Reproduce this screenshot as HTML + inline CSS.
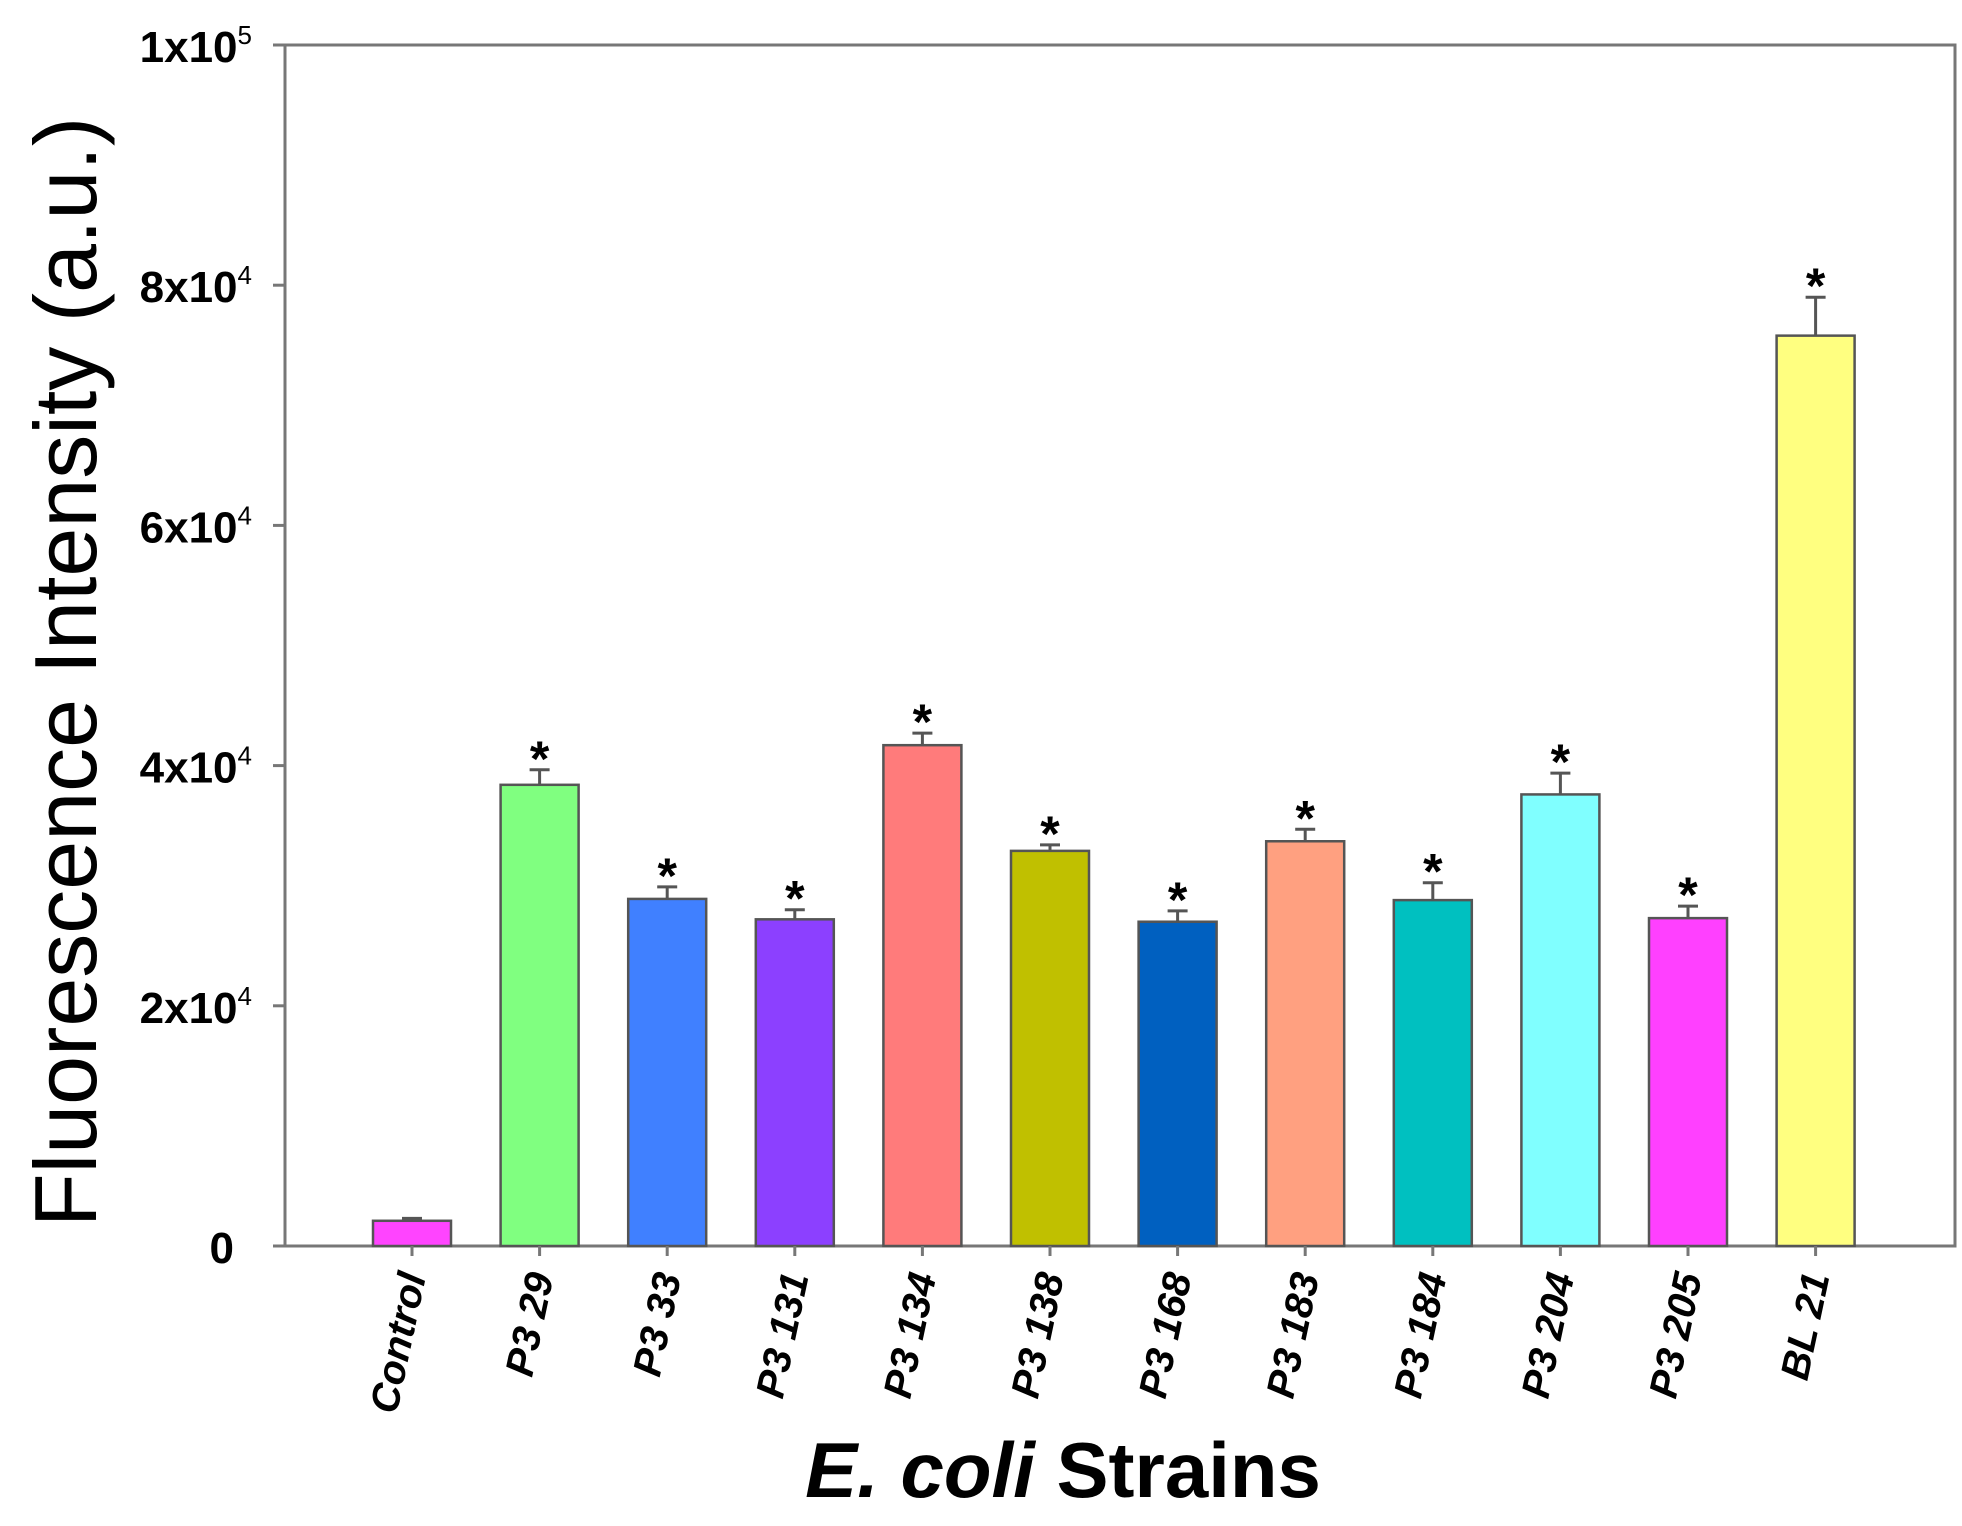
<!DOCTYPE html>
<html><head><meta charset="utf-8"><style>body{margin:0;background:#fff}svg{display:block}</style></head>
<body>
<svg id="chart" width="1962" height="1526" xmlns="http://www.w3.org/2000/svg" font-family="Liberation Sans, Arial, sans-serif">
<rect x="285" y="45" width="1670" height="1201" fill="none" stroke="#777" stroke-width="3"/>
<g id="yaxis"></g><g id="bars"></g><g id="xlabels"></g>
<text transform="translate(96,672) rotate(-90)" text-anchor="middle" font-size="88" fill="#000">Fluorescence Intensity (a.u.)</text>
<text x="1063" y="1497" text-anchor="middle" font-size="78" font-weight="bold" fill="#000"><tspan font-style="italic">E. coli</tspan> Strains</text>
</svg>
<script>
const categories=["Control","P3 29","P3 33","P3 131","P3 134","P3 138","P3 168","P3 183","P3 184","P3 204","P3 205","BL 21"];
const values=[2100,38400,28900,27200,41700,32900,27000,33700,28800,37600,27300,75800];
const errors=[200,1250,1000,800,1000,500,900,1000,1450,1770,1000,3200];
const significant=[false,true,true,true,true,true,true,true,true,true,true,true];
const colors=["#ff44ff","#80ff80","#4080ff","#8c40ff","#ff7b7b","#c0c000","#0060c0","#ffa080","#00c0c0","#80ffff","#ff40ff","#ffff80"];
const yTicks=[0,20000,40000,60000,80000,100000];
const yTickLabels=["0","2x10|4","4x10|4","6x10|4","8x10|4","1x10|5"];
const NS="http://www.w3.org/2000/svg";
const y0=1246,yTop=45,yMax=100000,x0=412,step=127.6,bw=78;
const Y=v=>y0-(v/yMax)*(y0-yTop);
const X=i=>x0+i*step;
function mk(t,a,p){const e=document.createElementNS(NS,t);for(const k in a)e.setAttribute(k,a[k]);p.appendChild(e);return e;}
const ya=document.getElementById('yaxis');
yTicks.forEach((v,i)=>{
 const l=mk('line',{x1:273,x2:285,y1:Y(v),y2:Y(v),stroke:'#777','stroke-width':3},ya);
 
 
 const parts=yTickLabels[i].split('|');
 const t=mk('text',{x:parts[1]?252:234,y:Y(v)+17,'text-anchor':'end','font-size':44,'font-weight':'bold'},ya);
 
 
 t.textContent=parts[0];
 if(parts[1]){const s=mk('tspan',{dy:-18,'font-size':26,'font-weight':'normal'},t);s.textContent=parts[1];}
});
const bg=document.getElementById('bars'),xl=document.getElementById('xlabels');
categories.forEach((c,i)=>{
 const cx=X(i),top=Y(values[i]);
 const r=mk('rect',{x:cx-bw/2,y:top,width:bw,height:y0-top,fill:colors[i],stroke:'#555','stroke-width':2.5},bg);
 
 
 const et=Y(values[i]+errors[i]);
 const e=mk('path',{d:`M${cx},${top}V${et}M${cx-10},${et}H${cx+10}`,stroke:'#555','stroke-width':3,fill:'none'},bg);
 
 
 if(significant[i]){
  const s=mk('text',{x:cx,y:et+6,'text-anchor':'middle','font-size':50,'font-weight':'bold'},bg);
  
  
  s.textContent='*';
 }
 const tk=mk('line',{x1:cx,x2:cx,y1:y0,y2:y0+10,stroke:'#777','stroke-width':3},xl);
 
 
 const t=mk('text',{transform:`translate(${cx+14},${y0+30}) rotate(-78)`,'text-anchor':'end','font-size':40,'font-weight':'bold','font-style':'italic'},xl);
 
 
 t.textContent=c;
});
</script>
</body></html>
